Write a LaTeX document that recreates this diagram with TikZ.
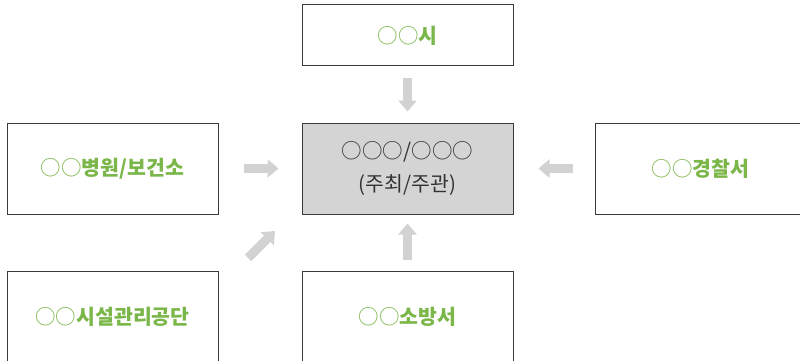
\documentclass[tikz,border=0pt]{standalone}
\usepackage{fontspec}
\newfontfamily\kr{Noto Sans CJK KR}
\usetikzlibrary{arrows.meta}
\definecolor{grn}{HTML}{7AB648}
\definecolor{boxline}{HTML}{3A3A3A}
\definecolor{centerfill}{HTML}{D4D4D4}
\definecolor{arrowgray}{HTML}{D2D2D2}
\definecolor{centertext}{HTML}{333333}
\tikzset{
  x=1pt, y=-1pt,
  box/.style={draw=boxline, line width=1pt, fill=white, minimum width=211pt, minimum height=91pt, inner sep=0pt, font=\kr\fontsize{20.5}{24}\selectfont, text=grn},
  centerbox/.style={box, fill=centerfill, text=centertext, align=center, font=\kr\fontsize{20.5}{33}\selectfont},
  bigarrow/.style={draw=arrowgray, line width=9pt, -{Triangle[length=11pt,width=18pt]}, line cap=butt}
}
\newcommand{\oo}{{\mdseries ○}}
\begin{document}
\begin{tikzpicture}
\useasboundingbox (0,0) rectangle (800,361);
\clip (0,0) rectangle (800,361);
\node[box, minimum height=61pt] (top) at (407.5,35.5) {\oo\oo{\bfseries 시}};
\node[box] (left) at (112.5,168.5) {\oo\oo{\bfseries 병원/보건소}};
\node[centerbox] (center) at (407.5,168.5) {○○○/○○○\\(주최/주관)};
\node[box] (right) at (700.5,168.5) {\oo\oo{\bfseries 경찰서}};
\node[box] (bl) at (112.5,316.5) {\oo\oo{\bfseries 시설관리공단}};
\node[box] (bm) at (407.5,316.5) {\oo\oo{\bfseries 소방서}};
\draw[bigarrow, shorten <=11pt, shorten >=11pt] (top) -- (center);
\draw[bigarrow, shorten <=25pt, shorten >=23pt] (left) -- (center);
\draw[bigarrow, shorten <=22pt, shorten >=25pt] (right) -- (center);
\draw[bigarrow, shorten <=11pt, shorten >=9pt] (bm) -- (center);
\coordinate (d1) at (248,258);
\coordinate (d2) at (275,231);
\draw[bigarrow] (d1) -- (d2);
\end{tikzpicture}
\end{document}
